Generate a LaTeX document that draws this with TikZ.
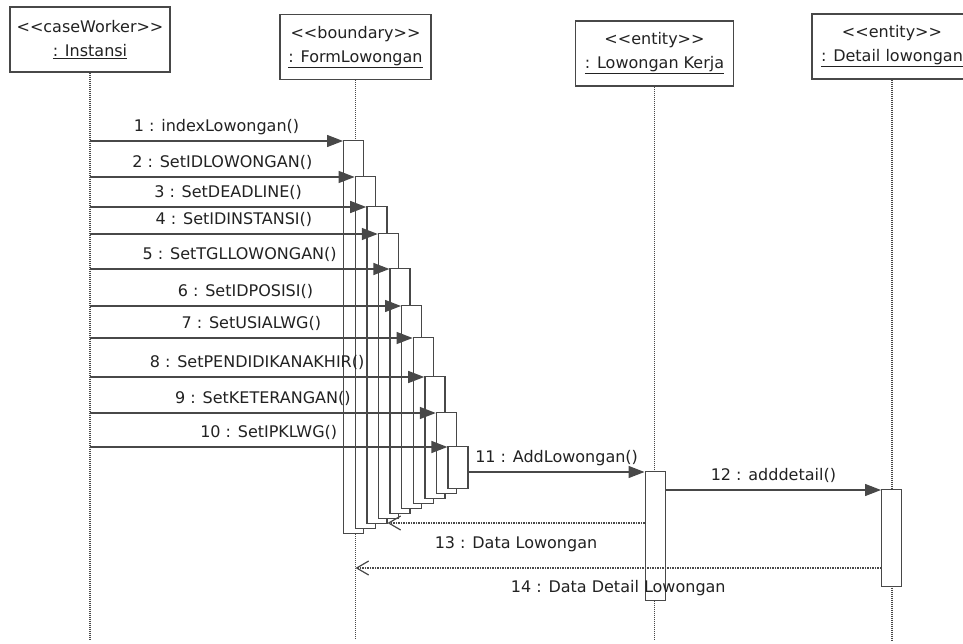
\documentclass[tikz,border=0pt]{standalone}
\usepackage{fontspec}
\setmainfont{DejaVu Sans}
\usetikzlibrary{arrows.meta}

\definecolor{ink}{HTML}{484848}
\definecolor{txt}{HTML}{222222}

% stereotype in plain angle brackets (kerns stop the << ligature mapping)
\newcommand\stereo[1]{<\kern0pt<#1>\kern0pt>}

\begin{document}
\begin{tikzpicture}[x=1pt,y=-1pt,
  obj/.style={draw=ink, line width=1.3pt, fill=white, minimum height=65pt,
    align=center, inner sep=2pt, text=txt, font=\fontsize{16}{24}\selectfont},
  actbar/.style={draw=ink, line width=1.3pt, fill=white, minimum width=20pt,
    inner sep=0pt, anchor=north west},
  life/.style={draw=ink, line width=1.4pt, dash pattern=on 1.2pt off 0.8pt},
  msg/.style={draw=ink, line width=1.3pt, -{Triangle[length=16pt,width=12pt]}},
  ret/.style={draw=ink, line width=1.1pt, dash pattern=on 1.5pt off 1pt,
    -{Straight Barb[length=12pt,width=14pt,line width=1.2pt]}},
  lbl/.style={text=txt, inner sep=0pt, text height=12pt, text depth=3pt,
    font=\fontsize{16}{18}\selectfont},
]
\path[use as bounding box, clip] (0,0) rectangle (963,644);
\fill[white] (0,0) rectangle (963,644);

% objects
\node[obj, minimum width=160pt] (inst) at (90,39.5)
  {\stereo{caseWorker}\\\underline{: Instansi}};
\node[obj, minimum width=151pt] (form) at (355.5,47)
  {\stereo{boundary}\\\underline{: FormLowongan}};
\node[obj, minimum width=158pt] (lk) at (654.5,53.5)
  {\stereo{entity}\\\underline{: Lowongan Kerja}};
\node[obj, minimum width=160pt] (det) at (892,46.5)
  {\stereo{entity}\\\underline{: Detail lowongan}};

% lifelines
\draw[life] (inst.south) -- (inst.south |- 0,640);
\draw[life] (form.south) -- (form.south |- 0,640);
\draw[life] (lk.south) -- (lk.south |- 0,640);
\draw[life] (det.south) -- (det.south |- 0,640);

% stacked activations on the form
\foreach \k/\y in {1/141,2/177,3/207,4/234,5/269,6/306,7/338,8/377,9/413,10/447}{
  \node[actbar, minimum height={(539-5*\k-\y)*1pt}] (b\k)
    at ({343+11.6*(\k-1)},{\y-1}) {};
}
% activations on the entities
\node[actbar, minimum height=129pt] (lkact) at (644.5,471) {};
\node[actbar, minimum height=97pt] (detact) at (881,489) {};

% calls from the case worker
\foreach \k/\y/\t in {
  1/141/{1 : indexLowongan()},
  2/177/{2 : SetIDLOWONGAN()},
  3/207/{3 : SetDEADLINE()},
  4/234/{4 : SetIDINSTANSI()},
  5/269/{5 : SetTGLLOWONGAN()},
  6/306/{6 : SetIDPOSISI()},
  7/338/{7 : SetUSIALWG()},
  8/377/{8 : SetPENDIDIKANAKHIR()},
  9/413/{9 : SetKETERANGAN()},
  10/447/{10 : SetIPKLWG()}}{
  \coordinate (s\k) at (inst.south |- 0,\y);
  \draw[msg] (s\k) -- (b\k.west |- s\k) node[lbl, midway, above=6pt] {\t};
}

% calls between form and entities
\draw[msg] (b10.east |- 0,472) -- (lkact.west |- 0,472)
  node[lbl, midway, above=6pt] {11 : AddLowongan()};
\draw[msg] (lkact.east |- 0,490) -- (detact.west |- 0,490)
  node[lbl, midway, above=6pt] {12 : adddetail()};

% returns
\draw[ret] (lkact.west |- 0,523) -- (b3.east |- 0,523)
  node[lbl, midway, below=13pt] {13 : Data Lowongan};
\draw[ret] (detact.west |- 0,568) -- (form.south |- 0,568)
  node[lbl, midway, below=12pt] {14 : Data Detail Lowongan};
\end{tikzpicture}
\end{document}
